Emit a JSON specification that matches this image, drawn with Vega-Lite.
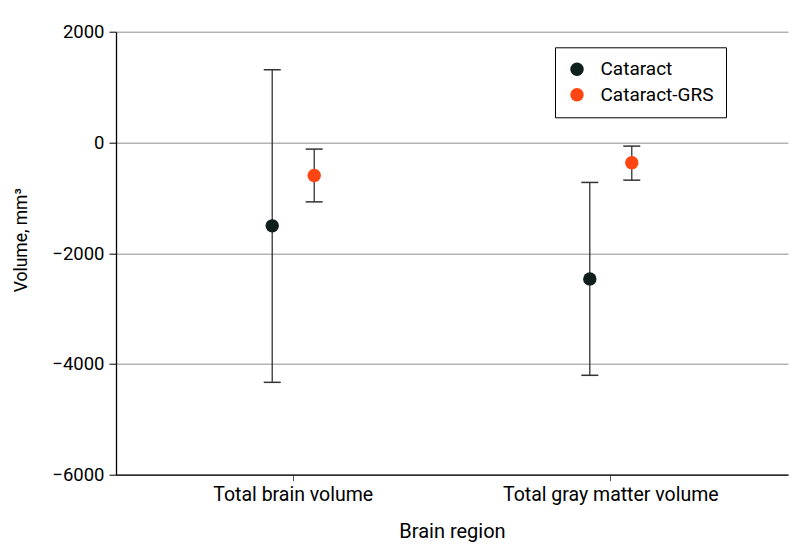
{
  "$schema": "https://vega.github.io/schema/vega-lite/v6.json",
  "width": 672,
  "height": 443,
  "autosize": "none",
  "padding": {"left": 116, "top": 31.7, "right": 6, "bottom": 84.3},
  "config": {
    "font": "Roboto",
    "view": {"stroke": null},
    "axis": {"labelColor": "black", "titleColor": "black", "titleFontWeight": "normal", "labelFont": "Roboto", "titleFont": "Roboto"},
    "legend": {"labelFont": "Roboto"}
  },
  "data": {
    "values": [
      {"region": "Total brain volume", "group": "Cataract", "est": -1506, "lo": -4332, "hi": 1313},
      {"region": "Total brain volume", "group": "Cataract-GRS", "est": -596, "lo": -1073, "hi": -120},
      {"region": "Total gray matter volume", "group": "Cataract", "est": -2464, "lo": -4205, "hi": -722},
      {"region": "Total gray matter volume", "group": "Cataract-GRS", "est": -368, "lo": -681, "hi": -66}
    ]
  },
  "encoding": {
    "x": {
      "field": "region",
      "type": "nominal",
      "scale": {"paddingInner": 0.7356, "paddingOuter": 0.4258},
      "title": "Brain region",
      "axis": {
        "labelAngle": 0,
        "labelFontSize": 19.5,
        "labelLimit": 0,
        "labelPadding": 5,
        "domainColor": "black",
        "domainWidth": 1.3,
        "tickColor": "#555555",
        "tickSize": 6,
        "titleFontSize": 20,
        "titlePadding": 17,
        "grid": false
      }
    },
    "xOffset": {"field": "group", "type": "nominal", "scale": {"paddingInner": 0, "paddingOuter": 0}}
  },
  "layer": [
    {
      "mark": {"type": "rule", "color": "#333333", "strokeWidth": 1.3},
      "encoding": {
        "y": {
          "field": "lo",
          "type": "quantitative",
          "scale": {"domain": [-6000, 2000], "nice": false, "zero": false},
          "title": "Volume, mm³",
          "axis": {
            "values": [-6000, -4000, -2000, 0, 2000],
            "format": "d",
            "labelFontSize": 18.5,
            "labelPadding": 5,
            "tickSize": 7,
            "tickColor": "black",
            "domainColor": "black",
            "domainWidth": 1.3,
            "gridColor": "#b3b3b3",
            "gridWidth": 1.5,
            "titleFontSize": 17.5,
            "titleX": -95,
            "titleY": 208,
            "titleAngle": -90,
            "titleAlign": "center",
            "titleBaseline": "middle"
          }
        },
        "y2": {"field": "hi"}
      }
    },
    {
      "mark": {"type": "tick", "orient": "horizontal", "size": 17, "thickness": 1.5, "color": "#333333", "opacity": 1},
      "encoding": {"y": {"field": "lo", "type": "quantitative"}}
    },
    {
      "mark": {"type": "tick", "orient": "horizontal", "size": 17, "thickness": 1.5, "color": "#333333", "opacity": 1},
      "encoding": {"y": {"field": "hi", "type": "quantitative"}}
    },
    {
      "mark": {"type": "circle", "size": 180, "opacity": 1},
      "encoding": {
        "y": {"field": "est", "type": "quantitative"},
        "color": {
          "field": "group",
          "type": "nominal",
          "scale": {"domain": ["Cataract", "Cataract-GRS"], "range": ["#0e1f1d", "#ff4612"]},
          "legend": {
            "title": null,
            "orient": "none",
            "legendX": 439,
            "legendY": 15.6,
            "strokeColor": "black",
            "fillColor": "white",
            "padding": 12.5,
            "labelFontSize": 19,
            "labelColor": "black",
            "labelOffset": 14,
            "symbolSize": 180,
            "symbolType": "circle",
            "symbolStrokeWidth": 0,
            "rowPadding": 5.5
          }
        }
      }
    }
  ]
}
